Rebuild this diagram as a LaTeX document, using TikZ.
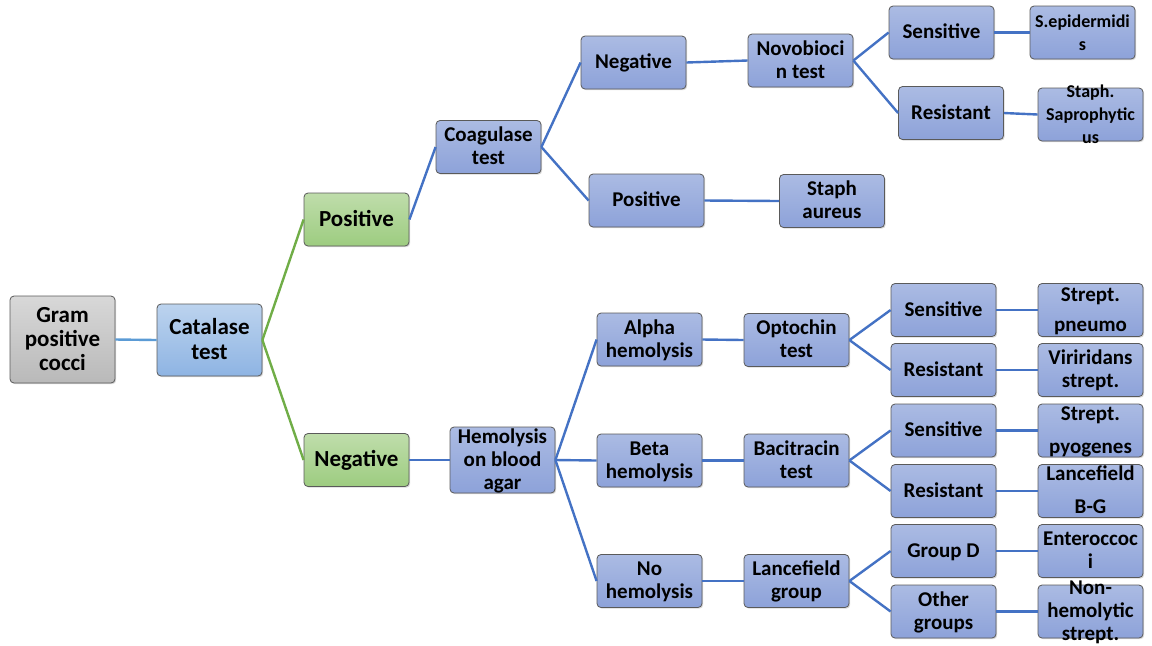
\documentclass[tikz,border=0pt]{standalone}
\usepackage{fontspec}
\setmainfont{Carlito}
\usetikzlibrary{shadows}

\definecolor{bluetop}{HTML}{ABBBE3}
\definecolor{bluebot}{HTML}{8DA2D9}
\definecolor{greytop}{HTML}{D8D8D8}
\definecolor{greybot}{HTML}{B9B9B9}
\definecolor{cattop}{HTML}{BCD3EE}
\definecolor{catbot}{HTML}{8EB4E3}
\definecolor{greentop}{HTML}{BFDDAB}
\definecolor{greenbot}{HTML}{9DCC80}
\definecolor{edgeline}{HTML}{5A5A5A}
\definecolor{linkblue}{HTML}{4472C4}
\definecolor{linkgreen}{HTML}{70AD47}
\definecolor{linksky}{HTML}{5B9BD5}

\newcommand{\boxtxt}[1]{\smash{\raisebox{-0.35em}{\begin{tabular}{@{}c@{}}#1\end{tabular}}}}

\begin{document}
\begin{tikzpicture}[x=0.5pt,y=-0.5pt,
    cell/.style={rounded corners=2pt, draw=edgeline, line width=0.4pt, inner sep=0pt,
      minimum width=52.5pt, minimum height=26.5pt, top color=bluetop, bottom color=bluebot,
      font=\bfseries\fontsize{10.5}{11.5}\selectfont,
      drop shadow={opacity=0.3, shadow xshift=0.6pt, shadow yshift=-0.6pt}},
    rootcell/.style={cell, top color=greytop, bottom color=greybot, minimum height=43.5pt,
      font=\bfseries\fontsize{11.5}{12}\selectfont},
    catcell/.style={cell, top color=cattop, bottom color=catbot, minimum height=36pt,
      font=\bfseries\fontsize{11.5}{12.5}\selectfont},
    greencell/.style={cell, top color=greentop, bottom color=greenbot,
      font=\bfseries\fontsize{11.5}{12}\selectfont},
    smallcell/.style={cell, font=\bfseries\fontsize{9}{11.5}\selectfont},
    link/.style={linkblue, line width=1.2pt}]
  \useasboundingbox (0,0) rectangle (1152,645);

  \node[rootcell] (gram) at (62.5,339.5) {\boxtxt{Gram\\positive\\cocci}};
  \node[catcell] (cat) at (209.5,340) {\boxtxt{Catalase\\test}};
  \node[greencell] (pos) at (356.5,219.5) {\boxtxt{Positive}};
  \node[greencell] (neg) at (356.5,460) {\boxtxt{Negative}};

  \node[cell] (coag) at (488.5,147) {\boxtxt{Coagulase\\test}};
  \node[cell] (cneg) at (633.5,62.5) {\boxtxt{Negative}};
  \node[cell, minimum width=57.5pt] (cpos) at (646.5,200.5) {\boxtxt{Positive}};
  \node[cell] (novo) at (800.5,60.5) {\boxtxt{Novobioci\\n test}};
  \node[cell] (aureus) at (832,201) {\boxtxt{Staph\\aureus}};
  \node[cell] (nsens) at (941.5,32.5) {\boxtxt{Sensitive}};
  \node[cell] (nres) at (951,113) {\boxtxt{Resistant}};
  \node[smallcell] (epid) at (1082.5,32.5) {\boxtxt{S.epidermidi\\s}};
  \node[smallcell] (sapro) at (1090.5,114.5) {\boxtxt{Staph.\\Saprophytic\\us}};

  \node[cell, minimum height=33pt] (hemo) at (502.5,460) {\boxtxt{Hemolysis\\on blood\\agar}};
  \node[cell] (alpha) at (649.5,339.5) {\boxtxt{Alpha\\hemolysis}};
  \node[cell] (beta) at (649.5,460.5) {\boxtxt{Beta\\hemolysis}};
  \node[cell] (nohem) at (649.5,581) {\boxtxt{No\\hemolysis}};
  \node[cell] (opto) at (796.5,340) {\boxtxt{Optochin\\test}};
  \node[cell] (baci) at (796.5,460.5) {\boxtxt{Bacitracin\\test}};
  \node[cell] (lance) at (796.5,581) {\boxtxt{Lancefield\\group}};

  \node[cell] (osens) at (943.5,310) {\boxtxt{Sensitive}};
  \node[cell] (ores) at (943.5,370) {\boxtxt{Resistant}};
  \node[cell] (bsens) at (943.5,430.5) {\boxtxt{Sensitive}};
  \node[cell] (bres) at (943.5,491) {\boxtxt{Resistant}};
  \node[cell] (grpd) at (943.5,551) {\boxtxt{Group D}};
  \node[cell] (othgrp) at (943.5,611.5) {\boxtxt{Other\\groups}};

  \node[cell] (pneumo) at (1090.5,310) {\boxtxt{Strept.\\[3.5pt]pneumo}};
  \node[cell] (virid) at (1090.5,370) {\boxtxt{Viriridans\\strept.}};
  \node[cell] (pyo) at (1090.5,430.5) {\boxtxt{Strept.\\[5pt]pyogenes}};
  \node[cell] (lanbg) at (1090.5,491) {\boxtxt{Lancefield\\[5pt]B-G}};
  \node[cell] (entero) at (1090.5,551) {\boxtxt{Enteroccoc\\i}};
  \node[cell] (nonhem) at (1090.5,611.5) {\boxtxt{Non-\\hemolytic\\strept.}};

  \draw[linksky, line width=1.2pt] (gram.east) -- (cat.west);
  \draw[linkgreen, line width=1.2pt] (cat.east) -- (pos.west);
  \draw[linkgreen, line width=1.2pt] (cat.east) -- (neg.west);

  \draw[link] (pos.east) -- (coag.west);
  \draw[link] (coag.east) -- (cneg.west);
  \draw[link] (coag.east) -- (cpos.west);
  \draw[link] (cneg.east) -- (novo.west);
  \draw[link] (cpos.east) -- (aureus.west);
  \draw[link] (novo.east) -- (nsens.west);
  \draw[link] (novo.east) -- (nres.west);
  \draw[link] (nsens.east) -- (epid.west);
  \draw[link] (nres.east) -- (sapro.west);

  \draw[link] (neg.east) -- (hemo.west);
  \draw[link] (hemo.east) -- (alpha.west);
  \draw[link] (hemo.east) -- (beta.west);
  \draw[link] (hemo.east) -- (nohem.west);
  \draw[link] (alpha.east) -- (opto.west);
  \draw[link] (beta.east) -- (baci.west);
  \draw[link] (nohem.east) -- (lance.west);
  \draw[link] (opto.east) -- (osens.west);
  \draw[link] (opto.east) -- (ores.west);
  \draw[link] (baci.east) -- (bsens.west);
  \draw[link] (baci.east) -- (bres.west);
  \draw[link] (lance.east) -- (grpd.west);
  \draw[link] (lance.east) -- (othgrp.west);
  \draw[link] (osens.east) -- (pneumo.west);
  \draw[link] (ores.east) -- (virid.west);
  \draw[link] (bsens.east) -- (pyo.west);
  \draw[link] (bres.east) -- (lanbg.west);
  \draw[link] (grpd.east) -- (entero.west);
  \draw[link] (othgrp.east) -- (nonhem.west);
\end{tikzpicture}
\end{document}
